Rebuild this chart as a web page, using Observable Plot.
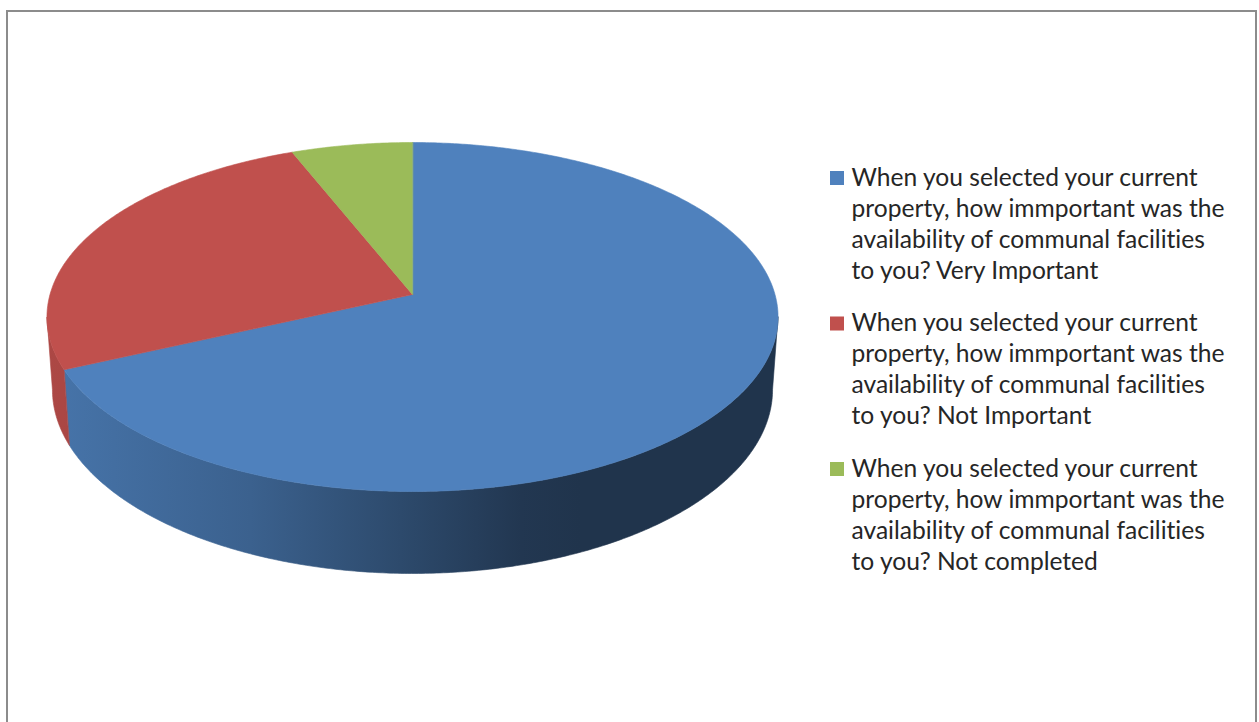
<!DOCTYPE html>
<html><head><meta charset="utf-8">
<script src="https://cdn.jsdelivr.net/npm/d3@7"></script>
<script src="https://cdn.jsdelivr.net/npm/@observablehq/plot@0.6"></script>
<style>
html,body{margin:0;padding:0;background:#fff;overflow:hidden;width:1259px;height:722px}
#chart{position:absolute;left:0;top:0;width:1259px;height:722px}
#chart text{font-variant-ligatures:none;font-feature-settings:"liga" 0,"clig" 0}
#frame{position:absolute;left:6px;top:10px;width:1247px;height:800px;border:2px solid #8c8c8c;pointer-events:none}
</style>
</head><body>
<div id="chart"></div>
<div id="frame"></div>
<script>
// ---- data ----
const categories = ["Very Important", "Not Important", "Not completed"];
const values = [45, 17, 4];
const sliceColors = ["#4f81bd", "#c0504d", "#9bbb59"];
const legendLines = [
  ["When you selected your current", "property, how immportant was the", "availability of communal facilities", "to you? Very Important"],
  ["When you selected your current", "property, how immportant was the", "availability of communal facilities", "to you? Not Important"],
  ["When you selected your current", "property, how immportant was the", "availability of communal facilities", "to you? Not completed"]
];

// ---- layout / projection ----
const W = 1259, H = 722;
const cx = 412, cy = 294, a = 362.5, b = 171.6, k = 0.129, T = 71.4, s = 0.985;
function topPt(t) { const u = Math.sin(t), v = Math.cos(t), d = 1 + k * v; return [cx + a * u / d, cy - b * v / d]; }
function botPt(t) { const u = Math.sin(t), v = Math.cos(t), d = 1 + k * v; return [cx + a * s * u / d, cy + (-b * v + T) / d]; }
// side shading (darkness by screen x)
const shadeX = [40, 62, 250, 400, 520, 580, 800];
const shadeK = [0.3, 0.33, 0.8, 1.57, 2.37, 2.57, 2.57];

const total = d3.sum(values);
const slices = [];
let acc = 0;
values.forEach((v, i) => {
  const t0 = acc / total * 2 * Math.PI; acc += v;
  const t1 = acc / total * 2 * Math.PI;
  slices.push({i, t0, t1});
});

const step = Math.PI / 360;
const thL = Math.acos(-k), thR = 2 * Math.PI - thL;
const sideRows = [];
slices.forEach(sl => {
  const lo = Math.max(sl.t0, thL), hi = Math.min(sl.t1, thR);
  if (hi <= lo) return;
  const n = Math.max(2, Math.ceil((hi - lo) / step));
  const z = `side-${sl.i}`, c = `url(#sideGrad${sl.i})`;
  for (let j = 0; j <= n; j++) { const q = topPt(lo + (hi - lo) * j / n); sideRows.push({x: q[0], y: q[1], z, c}); }
  for (let j = n; j >= 0; j--) { const q = botPt(lo + (hi - lo) * j / n); sideRows.push({x: q[0], y: q[1], z, c}); }
});

const topRows = [];
slices.forEach(sl => {
  const z = `top-${sl.i}`, c = sliceColors[sl.i];
  topRows.push({x: cx, y: cy, z, c});
  const n = Math.max(2, Math.ceil((sl.t1 - sl.t0) / step));
  for (let j = 0; j <= n; j++) {
    const q = topPt(sl.t0 + (sl.t1 - sl.t0) * j / n);
    topRows.push({x: q[0], y: q[1], z, c});
  }
});

// gradient defs for side walls
function gradientDefs() {
  const ns = "http://www.w3.org/2000/svg";
  const defs = document.createElementNS(ns, "defs");
  sliceColors.forEach((col, i) => {
    const g = document.createElementNS(ns, "linearGradient");
    g.setAttribute("id", `sideGrad${i}`);
    g.setAttribute("gradientUnits", "userSpaceOnUse");
    g.setAttribute("x1", shadeX[0]); g.setAttribute("x2", shadeX[shadeX.length - 1]);
    g.setAttribute("y1", 0); g.setAttribute("y2", 0);
    const span = shadeX[shadeX.length - 1] - shadeX[0];
    shadeX.forEach((x, j) => {
      const st = document.createElementNS(ns, "stop");
      st.setAttribute("offset", (x - shadeX[0]) / span);
      st.setAttribute("stop-color", d3.color(col).darker(shadeK[j]).formatHex());
      g.appendChild(st);
    });
    defs.appendChild(g);
  });
  return defs;
}

// legend
const ctx = document.createElement("canvas").getContext("2d");
ctx.font = "100px Lato";
const fs = 100 * 348 / ctx.measureText(legendLines[0][0]).width;
const legendRows = [], textRows = [];
legendLines.forEach((lines, e) => {
  const base = 185 + e * 145.5;
  legendRows.push({x1: 830, x2: 844, y1: base - 14, y2: base, c: sliceColors[e], cat: categories[e]});
  lines.forEach((t, j) => textRows.push({x: 851, y: base + j * 31, t}));
});

const chart = Plot.plot({
  width: W, height: H, margin: 0,
  x: {domain: [0, W], range: [0, W], axis: null},
  y: {domain: [0, H], range: [0, H], axis: null},
  style: {background: "transparent", overflow: "hidden"},
  marks: [
    gradientDefs,
    Plot.line(sideRows, {x: "x", y: "y", z: "z", fill: "c", stroke: "c", strokeWidth: 0.6, curve: "linear-closed"}),
    Plot.line(topRows, {x: "x", y: "y", z: "z", fill: "c", stroke: "c", strokeWidth: 0.6, curve: "linear-closed"}),
    Plot.rect(legendRows, {x1: "x1", x2: "x2", y1: "y1", y2: "y2", fill: "c"}),
    Plot.text(textRows, {x: "x", y: "y", text: "t", textAnchor: "start", lineAnchor: "bottom",
      fontSize: fs, fontFamily: "Lato", fill: "#262626"})
  ]
});
document.getElementById("chart").appendChild(chart);
</script>
</body></html>
